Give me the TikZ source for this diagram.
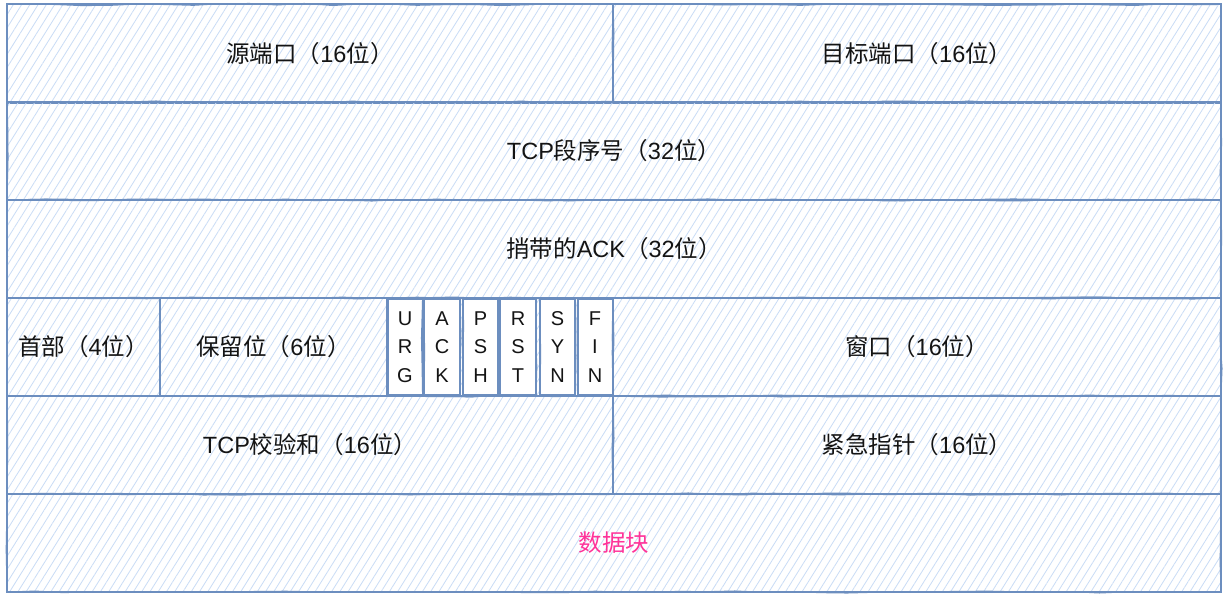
\documentclass[tikz,border=0pt]{standalone}
\usepackage{fontspec}
\setmainfont{Liberation Sans}
\newfontfamily\zh{Noto Sans CJK SC}
\usetikzlibrary{patterns.meta,decorations.pathmorphing}
\definecolor{edgeBlue}{HTML}{6C8EBF}
\definecolor{hatchBlue}{HTML}{C9DCF6}
\definecolor{dataPink}{HTML}{FF3399}
\newcommand{\cellFont}{\fontsize{23.5}{28}\selectfont}
\newcommand{\flagFont}{\fontsize{20}{28.5}\selectfont}
\newcommand{\rowHeight}{98pt}
\newcommand{\fullWidth}{1214pt}
\newcommand{\halfWidth}{606pt}

\tikzset{
  rough/.style={postaction={draw=edgeBlue, line width=0.9pt, decorate,
    decoration={random steps, segment length=28pt, amplitude=1.1pt}}},
  cell/.style={draw=edgeBlue, line width=2pt, inner sep=0pt, rough,
    pattern={Lines[angle=58,distance=7pt,line width=0.8pt]}, pattern color=hatchBlue,
    minimum height=\rowHeight, font=\cellFont, text=black!92},
  flagbox/.style={draw=edgeBlue, line width=2pt, fill=white, inner sep=0pt, rough,
    minimum height=96pt, font=\flagFont, align=center, text=black!92},
}

\begin{document}
\begin{tikzpicture}[x=1pt, y=-1pt]
  \fill[white] (0,0) rectangle (1226,594);
  \useasboundingbox (0,0) rectangle (1226,594);
  \pgfmathsetseed{7}

  % row 1: ports
  \node[cell, minimum width=\halfWidth] (src) at (310,53.5) {{\zh 源端口（}16{\zh 位）}};
  \node[cell, minimum width=608pt] (dst) at (917,53.5) {{\zh 目标端口（}16{\zh 位）}};
  % row 2 and 3
  \node[cell, minimum width=\fullWidth] (seq) at (614,151) {TCP{\zh 段序号（}32{\zh 位）}};
  \node[cell, minimum width=\fullWidth] (ack) at (614,249) {{\zh 捎带的}ACK{\zh （}32{\zh 位）}};

  % row 4: header length, reserved, flags, window
  \node[cell, minimum width=153pt] (hlen) at (83.5,347) {{\zh 首部（}4{\zh 位）}};
  \node[cell, minimum width=227pt] (resv) at (273.5,347) {{\zh 保留位（}6{\zh 位）}};
  \node[cell, minimum width=226pt] (flagbg) at (500,347) {};
  \node[flagbox, minimum width=35pt] (urg) at (405,347) {U\\R\\G};
  \node[flagbox, minimum width=36pt] (ackf) at (442,347) {A\\C\\K};
  \node[flagbox, minimum width=35pt] (psh) at (480.5,347) {P\\S\\H};
  \node[flagbox, minimum width=36pt] (rst) at (518,347) {R\\S\\T};
  \node[flagbox, minimum width=35pt] (syn) at (557.5,347) {S\\Y\\N};
  \node[flagbox, minimum width=35pt] (fin) at (595,347) {F\\I\\N};
  \node[cell, minimum width=608pt] (win) at (917,347) {{\zh 窗口（}16{\zh 位）}};

  % row 5
  \node[cell, minimum width=\halfWidth] (chk) at (310,445) {TCP{\zh 校验和（}16{\zh 位）}};
  \node[cell, minimum width=608pt] (urgp) at (917,445) {{\zh 紧急指针（}16{\zh 位）}};

  % row 6: payload
  \node[cell, minimum width=\fullWidth, text=dataPink] (data) at (614,543) {\zh 数据块};
\end{tikzpicture}
\end{document}
